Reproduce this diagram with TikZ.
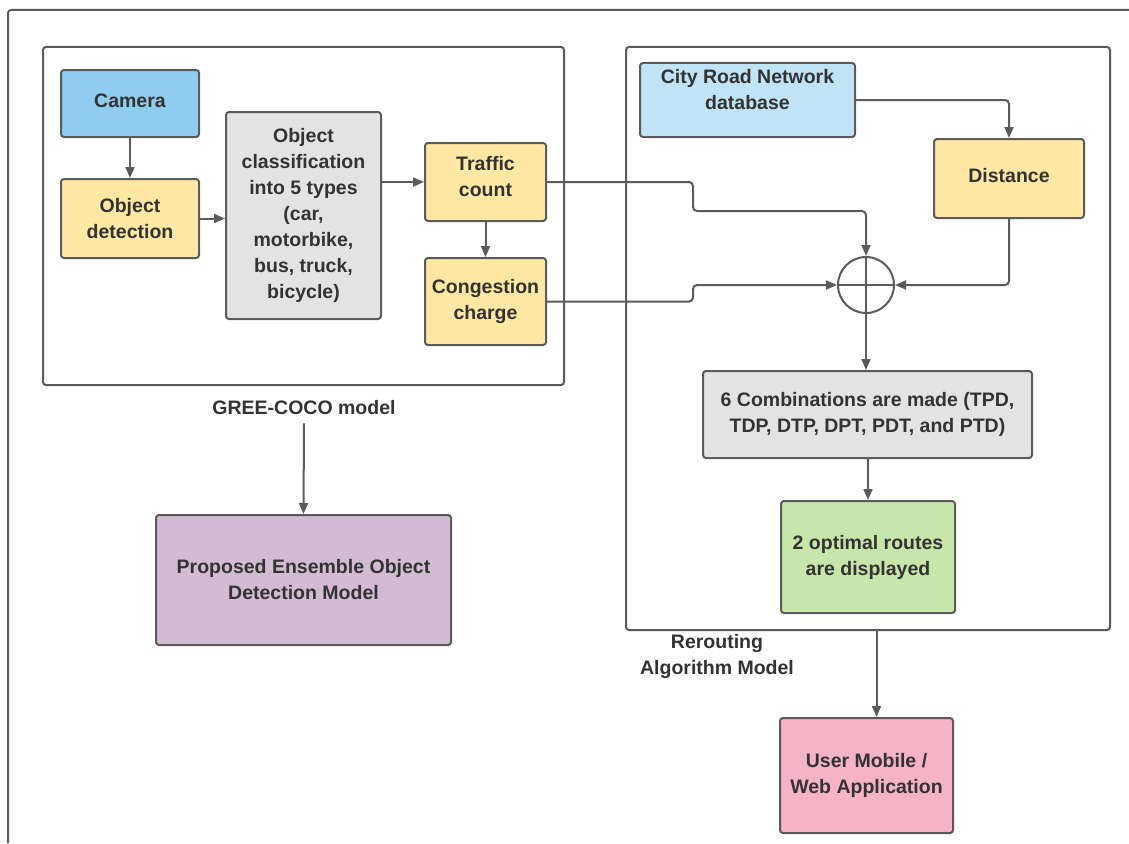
\documentclass[tikz,border=0pt]{standalone}
\usepackage{fontspec}
\setmainfont{Liberation Sans}
\usetikzlibrary{arrows.meta}
\definecolor{edgegrey}{HTML}{5B5B5B}
\definecolor{inkdark}{HTML}{333333}
\definecolor{camblue}{HTML}{8ECDF0}
\definecolor{dbblue}{HTML}{C0E3F6}
\definecolor{stepyellow}{HTML}{FFE8A3}
\definecolor{procgrey}{HTML}{E3E3E3}
\definecolor{ensviolet}{HTML}{D3BBD3}
\definecolor{routegreen}{HTML}{C7E6AA}
\definecolor{apppink}{HTML}{F4B3C6}
\tikzset{
  gc/.style={rounded corners=3pt, draw=edgegrey, line width=2pt, align=center, text=inkdark,
             font=\bfseries\fontsize{19.5}{26}\selectfont, inner sep=2pt},
  gc cam/.style={gc, fill=camblue},
  gc db/.style={gc, fill=dbblue},
  gc step/.style={gc, fill=stepyellow},
  gc proc/.style={gc, fill=procgrey},
  gc ens/.style={gc, fill=ensviolet},
  gc route/.style={gc, fill=routegreen},
  gc app/.style={gc, fill=apppink},
  gc grp/.style={draw=edgegrey, line width=2pt, rounded corners=3pt},
  gc sum/.style={draw=edgegrey, line width=2pt, circle, minimum size=56pt, inner sep=0pt},
  gc arr/.style={-{Triangle[length=11pt,width=9pt]}, line width=2pt, draw=edgegrey, rounded corners=4pt},
  gc line/.style={line width=2pt, draw=edgegrey},
  gc lab/.style={font=\bfseries\fontsize{19.5}{26}\selectfont, text=inkdark, align=center, inner sep=2pt},
}
\begin{document}
\begin{tikzpicture}[x=1pt, y=-1pt]
  \useasboundingbox[fill=white] (0,0) rectangle (1129,843);
  % outer frame, cut by the page
  \draw[gc grp] (8,843) -- (8,10) -- (1129,10);
  % the two model groups
  \node[gc grp, minimum width=521pt, minimum height=338pt] (lgrp) at (303.5,216) {};
  \node[gc grp, minimum width=484pt, minimum height=583pt] (rgrp) at (868,338.5) {};
  \node[gc lab] (lgree) at (304,408) {GREE-COCO model};
  \node[gc lab] (lrout) at (717,656) {Rerouting\\Algorithm Model};
  % GREE-COCO model
  \node[gc cam, minimum width=138pt, minimum height=67pt, text depth=6pt] (cam) at (130,103.5) {Camera};
  \node[gc step, minimum width=138pt, minimum height=79pt] (det) at (130,218.5) {Object\\detection};
  \node[gc proc, minimum width=155pt, minimum height=207pt] (cls) at (303.5,215.5)
     {Object\\classification\\into 5 types\\(car,\\motorbike,\\bus, truck,\\bicycle)};
  \node[gc step, minimum width=121pt, minimum height=78pt, text depth=11pt] (cnt) at (485.5,182) {Traffic\\count};
  \node[gc step, minimum width=121pt, minimum height=87pt] (chg) at (485.5,301.5) {Congestion\\charge};
  \node[gc ens, minimum width=295pt, minimum height=130pt] (ens) at (303.5,580) {Proposed Ensemble Object\\Detection Model};
  % rerouting algorithm model
  \node[gc db, minimum width=215pt, minimum height=74pt, text depth=22pt] (crn) at (747.5,100) {City Road Network\\database};
  \node[gc step, minimum width=150pt, minimum height=79pt, text depth=6pt] (dist) at (1009,178.5) {Distance};
  \node[gc sum] (sum) at (866,285) {};
  \node[gc proc, minimum width=329pt, minimum height=87pt] (comb) at (867.5,414.5)
     {6 Combinations are made (TPD,\\TDP, DTP, DPT, PDT, and PTD)};
  \node[gc route, minimum width=174pt, minimum height=112pt] (opt) at (868,557) {2 optimal routes\\are displayed};
  \node[gc app, minimum width=173pt, minimum height=115pt] (app) at (866.5,775.5) {User Mobile /\\Web Application};
  \coordinate (j1) at (693,211);
  \coordinate (j2) at (693,285);
  % connectors
  \draw[gc line] (sum.north) -- (sum.south) (sum.west) -- (sum.east);
  \draw[gc arr] (cam) -- (det);
  \draw[gc arr] (det) -- (det -| cls.west);
  \draw[gc arr] (cnt.west -| cls.east) -- (cnt.west);
  \draw[gc arr] (cnt) -- (chg);
  \draw[gc arr] (cnt.east) -| (j1) -| (sum.north);
  \draw[gc arr] (chg.east) -| (j2) -- (sum.west);
  \draw[gc arr] (crn.east) -| (dist.north);
  \draw[gc arr] (dist.south) |- (sum.east);
  \draw[gc arr] (sum.south) -- (sum.south |- comb.north);
  \draw[gc arr] (comb.south -| opt) -- (opt.north);
  \draw[gc arr] (lgree.south) ++(0,6) -- (ens.north);
  \draw[gc arr] ([xshift=10pt]rgrp.south -| app.north) -- ([xshift=10pt]app.north);
\end{tikzpicture}
\end{document}
